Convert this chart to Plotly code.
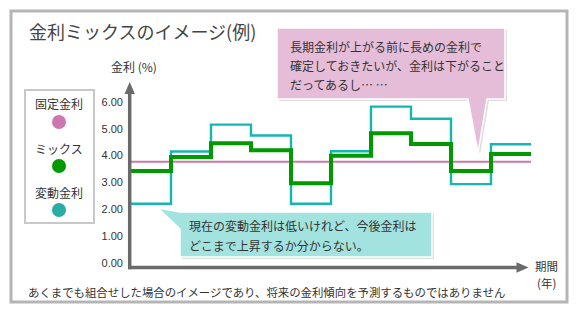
import plotly.graph_objects as go

# ---------------- data ----------------
years = [0, 1, 2, 3, 4, 5, 6, 7, 8, 9, 10]
fixed_rate = [3.77] * 11
variable_rate = [2.21, 4.15, 5.15, 4.75, 2.21, 4.16, 5.82, 5.37, 2.94, 4.42]
mix_rate = [3.43, 3.95, 4.46, 4.20, 2.97, 3.99, 4.83, 4.43, 3.43, 4.06]
tick_vals = [0, 1, 2, 3, 4, 5, 6]
tick_text = ["0.00", "1.00", "2.00", "3.00", "4.00", "5.00", "6.00"]
legend_labels = ["固定金利", "ミックス", "変動金利"]
title_text = "金利ミックスのイメージ(例)"
y_title = "金利 (%)"
x_title = ["期間", "(年)"]
pink_note = ["長期金利が上がる前に長めの金利で", "確定しておきたいが、金利は下がること", "だってあるし… …"]
teal_note = ["現在の変動金利は低いけれど、今後金利は", "どこまで上昇するか分からない。"]
footer = "あくまでも組合せした場合のイメージであり、将来の金利傾向を予測するものではありません"

C_PINK = "#cc77aa"
C_GREEN = "#009900"
C_TEAL = "#14b6b1"
C_AXIS = "#6a6a6a"
JP = "Noto Sans CJK JP"

W, H = 578, 310
X0, XS = 131, 40.0      # pixel of year 0, px per year
Y0, YS = 263.2, 26.9    # pixel of 0 %, px per %


def xp(px):
    return px / W


def yp(py):
    return 1 - py / H


def path(pts):
    return "M" + " L".join(f"{xp(a):.5f},{yp(b):.5f}" for a, b in pts) + " Z"


fig = go.Figure()
step = lambda v: v + [v[-1]]
fig.add_trace(go.Scatter(x=years, y=fixed_rate, mode="lines",
                         line=dict(color=C_PINK, width=2), hoverinfo="skip"))
fig.add_trace(go.Scatter(x=years, y=step(variable_rate), mode="lines", line_shape="hv",
                         line=dict(color=C_TEAL, width=2.4), hoverinfo="skip"))
fig.add_trace(go.Scatter(x=years, y=step(mix_rate), mode="lines", line_shape="hv",
                         line=dict(color=C_GREEN, width=4), hoverinfo="skip"))

shapes = []
# outer frame
shapes.append(dict(type="rect", xref="paper", yref="paper", x0=xp(11), x1=xp(567), y0=yp(11), y1=yp(302),
                   line=dict(color="#b5b5b5", width=3), layer="below"))
# legend box
shapes.append(dict(type="rect", xref="paper", yref="paper", x0=xp(25), x1=xp(94), y0=yp(90), y1=yp(223),
                   line=dict(color="#c8c8c8", width=2), fillcolor="white"))
for cy, col in zip([122, 166, 210], ["#cc77b0", "#009900", "#2aaba6"]):
    shapes.append(dict(type="circle", xref="paper", yref="paper", x0=xp(52), x1=xp(66),
                       y0=yp(cy - 7), y1=yp(cy + 7), line=dict(width=0), fillcolor=col))
# axes
shapes.append(dict(type="line", xref="paper", yref="paper", x0=xp(129.7), x1=xp(129.7), y0=yp(269.2), y1=yp(92),
                   line=dict(color=C_AXIS, width=3.5)))
shapes.append(dict(type="path", xref="paper", yref="paper", path=path([(124.5, 94), (129.7, 82), (134.9, 94)]),
                   fillcolor=C_AXIS, line=dict(width=0)))
shapes.append(dict(type="line", xref="paper", yref="paper", x0=xp(128), x1=xp(519), y0=yp(267.5), y1=yp(267.5),
                   line=dict(color=C_AXIS, width=3.5)))
shapes.append(dict(type="path", xref="paper", yref="paper", path=path([(516.5, 262.3), (528.5, 267.5), (516.5, 272.7)]),
                   fillcolor=C_AXIS, line=dict(width=0)))

# pink callout
pink_pts = [(277, 28), (505, 28), (505, 99), (487, 99), (478, 153), (468, 99), (277, 99)]
shapes.append(dict(type="path", xref="paper", yref="paper", path=path([(a + 2, b + 2) for a, b in pink_pts]),
                   fillcolor="rgba(0,0,0,0.13)", line=dict(width=0)))
shapes.append(dict(type="path", xref="paper", yref="paper", path=path(pink_pts),
                   fillcolor="#e6bdd8", line=dict(color="white", width=1.5)))
# teal callout
teal_pts = [(180, 212), (432, 212), (432, 257), (180, 257), (180, 229), (158, 208)]
shapes.append(dict(type="path", xref="paper", yref="paper", path=path([(a + 2, b + 2) for a, b in teal_pts]),
                   fillcolor="rgba(0,0,0,0.13)", line=dict(width=0)))
shapes.append(dict(type="path", xref="paper", yref="paper", path=path(teal_pts),
                   fillcolor="#a3e3df", line=dict(color="white", width=1.5)))

ann = []


def text(s, x, y, size=12, color="#333", xanchor="left", family=JP):
    ann.append(dict(text=s, x=xp(x), y=yp(y), xref="paper", yref="paper", showarrow=False,
                    xanchor=xanchor, yanchor="middle", font=dict(family=family, size=size, color=color)))


text(title_text, 27, 31, size=18, color="#444")
text(y_title, 134, 67, size=12, xanchor="center")
for lab, cy in zip(legend_labels, [103, 148, 192]):
    text(lab, 59, cy, size=12, xanchor="center")
for i, line in enumerate(pink_note):
    text(line, 288, 46 + 19 * i, size=12)
for i, line in enumerate(teal_note):
    text(line, 187, 225 + 20 * i, size=12)
text(x_title[0], 546, 266, size=11.5, xanchor="center")
text(x_title[1], 546, 283, size=11.5, xanchor="center")
text(footer, 26, 292, size=11.4)

fig.update_layout(
    width=W, height=H, margin=dict(l=0, r=0, t=0, b=0),
    paper_bgcolor="white", plot_bgcolor="white", showlegend=False,
    shapes=shapes, annotations=ann,
    xaxis=dict(range=[-X0 / XS, (W - X0) / XS], visible=False, fixedrange=True),
    yaxis=dict(range=[-(H - Y0) / YS, Y0 / YS], anchor="free", position=xp(130),
               tickvals=tick_vals, ticktext=tick_text, showgrid=False, zeroline=False,
               showline=False, ticks="", ticklabelstandoff=7,
               tickfont=dict(family="Liberation Sans", size=11, color="#333"), fixedrange=True),
)

fig.write_html("out.html")
